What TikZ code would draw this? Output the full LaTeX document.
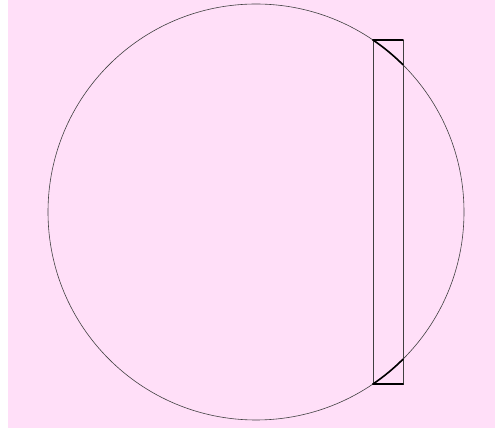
\documentclass[tikz,border=0pt]{standalone}
\usetikzlibrary{calc}
\definecolor{bgpink}{RGB}{255,223,248}

\begin{document}
\begin{tikzpicture}[
  x=1pt,y=1pt,
  thin line/.style={draw=black!75,line width=0.6pt},
  thick line/.style={draw=black,line width=1.6pt,line cap=round}
]
  \useasboundingbox (0,0) rectangle (495,428);
  \fill[bgpink] (8,0) rectangle (495,428);
  \coordinate (center) at (256,216);
  \coordinate (rectBL) at (373,44);
  \coordinate (rectTR) at (403,388);
  \draw[thin line] (center) circle[radius=208];
  \draw[thin line] (rectBL) rectangle (rectTR);
  % upper cap
  \draw[thick line] (rectTR -| rectBL) -- (rectTR);
  \draw[thick line] (rectTR -| rectBL) arc[start angle=55.77,end angle=45.04,radius=208];
  % lower cap
  \draw[thick line] (rectBL) -- (rectBL -| rectTR);
  \draw[thick line] (rectBL) arc[start angle=-55.77,end angle=-45.04,radius=208];
\end{tikzpicture}
\end{document}
